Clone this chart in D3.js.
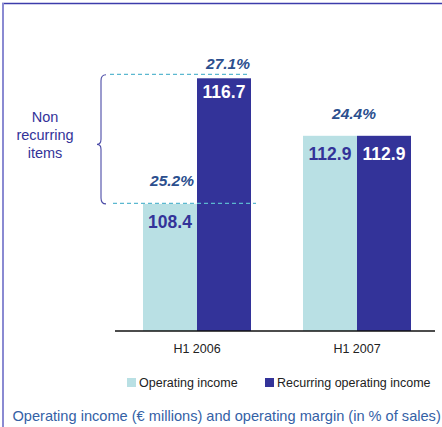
<!DOCTYPE html>
<html>
<head>
<meta charset="utf-8">
<script src="https://cdn.jsdelivr.net/npm/d3@7"></script>
<style>
  html, body { margin: 0; padding: 0; background: #fff; }
  svg { display: block; font-family: "Liberation Sans", Arial, sans-serif; }
</style>
</head>
<body>
<svg id="chart" width="442" height="427"></svg>
<script>
const categories = ["H1 2006", "H1 2007"];
const seriesNames = ["Operating income", "Recurring operating income"];
const operatingIncome = [108.4, 112.9];
const recurringIncome = [116.7, 112.9];
const operatingMargin = ["25.2%", "24.4%"];
const recurringMargin = ["27.1%", "24.4%"];
const bracketLabel = ["Non", "recurring", "items"];
const title = "Operating income (€ millions) and operating margin (in % of sales)";

const colors = ["#b9e0e4", "#333399"];
const labelColors = ["#333399", "#ffffff"];
const marginColor = "#2b4f8e";

const svg = d3.select("#chart");
const W = 442, H = 427;

// frame
svg.append("line").attr("x1", 2).attr("x2", W).attr("y1", 3.5).attr("y2", 3.5)
  .attr("stroke", "#3c3cab").attr("stroke-width", 1.5);
svg.append("line").attr("x1", 3).attr("x2", 3).attr("y1", 3).attr("y2", H)
  .attr("stroke", "#8a8ad2").attr("stroke-width", 2);

const baseY = 331;
const y = d3.scaleLinear().domain([100, 116.7]).range([baseY, 78.3]);
const x = d3.scaleBand().domain(categories).range([117, 437])
  .paddingInner(0.325).paddingOuter(0.1625);
const xs = d3.scaleBand().domain(seriesNames).range([0, x.bandwidth()]);

const rows = categories.map((c, i) => ({
  cat: c,
  vals: [operatingIncome[i], recurringIncome[i]]
}));

const g = svg.append("g");
rows.forEach((r, i) => {
  r.vals.forEach((v, s) => {
    const bx = x(r.cat) + xs(seriesNames[s]);
    g.append("rect")
      .attr("x", bx).attr("y", y(v))
      .attr("width", xs.bandwidth()).attr("height", baseY - y(v))
      .attr("fill", colors[s]);
    const off = (i === 0 && s === 1) ? 19.5 : 24.5;
    g.append("text")
      .attr("x", bx + xs.bandwidth() / 2)
      .attr("y", y(v) + off)
      .attr("text-anchor", "middle")
      .attr("font-size", "17.5px").attr("font-weight", "bold")
      .attr("fill", labelColors[s])
      .text(v.toFixed(1));
  });
});

// axis
const xAxis = svg.append("g").attr("transform", `translate(0,${baseY})`)
  .call(d3.axisBottom(x).tickSize(0).tickPadding(13));
xAxis.select(".domain").attr("d", "M115,0H435").attr("stroke", "#111").attr("stroke-width", 1.5);
xAxis.selectAll("text").attr("font-size", "12.5px").attr("fill", "#222")
  .attr("font-family", "Liberation Sans, Arial, sans-serif");

// dashed reference lines for H1 2006
const c0 = categories[0];
const dash = "4,3";
svg.append("line")
  .attr("x1", 110).attr("x2", x(c0) + x.bandwidth() - 3)
  .attr("y1", y(recurringIncome[0]) - 4).attr("y2", y(recurringIncome[0]) - 4)
  .attr("stroke", "#5bb8d0").attr("stroke-width", 1.2).attr("stroke-dasharray", dash);
svg.append("line")
  .attr("x1", 113).attr("x2", x(c0) + x.bandwidth() + 5)
  .attr("y1", y(operatingIncome[0]) - 0.5).attr("y2", y(operatingIncome[0]) - 0.5)
  .attr("stroke", "#5bb8d0").attr("stroke-width", 1.2).attr("stroke-dasharray", dash);

// margin labels
svg.append("text")
  .attr("x", x(c0) + x.bandwidth() - 1)
  .attr("y", y(recurringIncome[0]) - 9.5)
  .attr("text-anchor", "end")
  .attr("font-size", "15.5px").attr("font-weight", "bold").attr("font-style", "italic")
  .attr("fill", marginColor).text(recurringMargin[0]);
svg.append("text")
  .attr("x", x(c0) + xs.bandwidth() - 3)
  .attr("y", y(operatingIncome[0]) - 17.5)
  .attr("text-anchor", "end")
  .attr("font-size", "15.5px").attr("font-weight", "bold").attr("font-style", "italic")
  .attr("fill", marginColor).text(operatingMargin[0]);
const c1 = categories[1];
svg.append("text")
  .attr("x", x(c1) + x.bandwidth() / 2 - 3)
  .attr("y", y(recurringIncome[1]) - 17)
  .attr("text-anchor", "middle")
  .attr("font-size", "15.5px").attr("font-weight", "bold").attr("font-style", "italic")
  .attr("fill", marginColor).text(recurringMargin[1]);

// brace
const bTop = y(recurringIncome[0]) - 3.5, bBot = y(operatingIncome[0]);
const bMid = (bTop + bBot) / 2 + 5;
const bx0 = 105, bx1 = 101, btip = 97;
const bp = d3.path();
bp.moveTo(bx0 + 1, bTop);
bp.quadraticCurveTo(bx1, bTop, bx1, bTop + 6);
bp.lineTo(bx1, bMid - 5);
bp.quadraticCurveTo(bx1, bMid, btip, bMid);
bp.quadraticCurveTo(bx1, bMid, bx1, bMid + 5);
bp.lineTo(bx1, bBot - 6);
bp.quadraticCurveTo(bx1, bBot, bx0 + 1, bBot);
svg.append("path").attr("d", bp.toString()).attr("fill", "none")
  .attr("stroke", "#4a4aa6").attr("stroke-width", 1.1);

svg.append("g").selectAll("text").data(bracketLabel).join("text")
  .attr("x", 45).attr("y", (d, i) => 122 + i * 18)
  .attr("text-anchor", "middle")
  .attr("font-size", "14.5px").attr("fill", "#333399")
  .text(d => d);

// legend
const legend = svg.append("g");
const legendX = [127, 265];
seriesNames.forEach((n, s) => {
  legend.append("rect").attr("x", legendX[s]).attr("y", 378)
    .attr("width", 9).attr("height", 9).attr("fill", colors[s]);
  legend.append("text").attr("x", legendX[s] + 12).attr("y", 387)
    .attr("font-size", "12.5px").attr("fill", "#222").text(n);
});

// title
svg.append("text").attr("x", 12.5).attr("y", 421)
  .attr("font-size", "14.6px").attr("fill", "#3461a6").text(title);
</script>
</body>
</html>
